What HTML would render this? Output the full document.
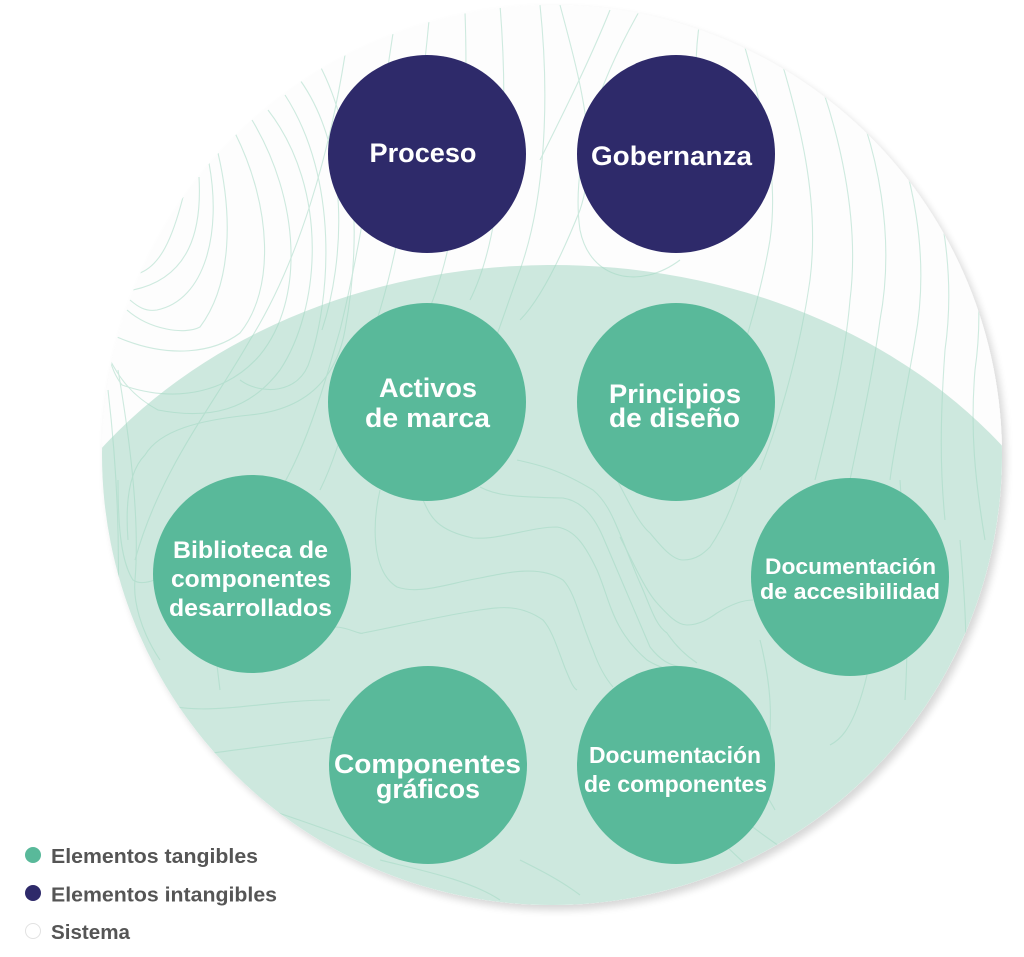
<!DOCTYPE html>
<html>
<head>
<meta charset="utf-8">
<style>
html,body{margin:0;padding:0;background:#ffffff;width:1024px;height:957px;overflow:hidden;}
svg{display:block;position:absolute;left:0;top:0;}
text{font-family:"Liberation Sans",Arial,sans-serif;font-weight:bold;}
</style>
</head>
<body>
<svg width="1024" height="957" viewBox="0 0 1024 957" xmlns="http://www.w3.org/2000/svg" overflow="hidden">
<defs>
  <clipPath id="big"><circle cx="552" cy="455" r="450"/></clipPath>
  <filter id="sh" x="-3%" y="-3%" width="106%" height="106%">
    <feGaussianBlur in="SourceAlpha" stdDeviation="4"/>
    <feOffset dx="4" dy="5" result="o"/>
    <feComponentTransfer><feFuncA type="linear" slope="0.16"/></feComponentTransfer>
    <feMerge><feMergeNode/><feMergeNode in="SourceGraphic"/></feMerge>
  </filter>
</defs>

<circle cx="552" cy="455" r="450" fill="#fdfdfd" filter="url(#sh)"/>

<g clip-path="url(#big)">
  <path d="M90,461.4 A560,449 0 0 1 1010,454.5 L1010,910 L90,910 Z" fill="#cde8de"/>
  <g fill="none" stroke="#9fd7c1" stroke-width="1.1" opacity="0.5">
    <path d="M183,197 C172,240 160,265 140,273"/>
    <path d="M199,177 C202,230 190,278 133,290"/>
    <path d="M209,163 C222,233 205,300 157,310 C145,312 137,306 130,300"/>
    <path d="M218,153 C232,213 233,283 200,327 C185,335 150,330 127,310"/>
    <path d="M235,133 C272,207 275,290 240,333 C215,352 170,360 117,337"/>
    <path d="M252,120 C300,200 305,300 260,355 C230,390 180,405 122,385 C112,372 110,360 108,350"/>
    <path d="M268,110 C330,190 320,310 280,370 C250,410 210,420 158,410 C130,395 118,375 110,360"/>
    <path d="M285,95 C340,180 330,300 310,360 C300,395 260,395 240,380"/>
    <path d="M300,80 C350,150 345,260 322,330"/>
    <path d="M318,62 C360,140 360,250 345,330 C335,385 300,410 250,415 C200,420 160,430 145,455 C130,470 125,500 128,540"/>
    <path d="M345,55 C330,150 300,260 250,340 C210,410 160,470 135,560"/>
    <path d="M108,390 C115,450 120,520 118,600 C117,640 128,690 150,740"/>
    <path d="M118,370 C130,440 140,520 135,580 C133,600 140,630 160,660"/>
    <path d="M118,480 C118,520 120,560 133,580 C140,585 150,582 160,578"/>
    <path d="M395,20 C380,120 360,250 340,330 C320,400 300,470 260,520"/>
    <path d="M430,10 C420,120 400,260 370,340 C350,400 340,450 320,490"/>
    <path d="M465,12 C470,150 455,260 420,330"/>
    <path d="M500,5 C510,130 500,240 470,300"/>
    <path d="M540,5 C550,100 545,200 520,270 C505,310 490,360 470,400"/>
    <path d="M560,5 C580,80 600,150 580,210 C560,260 540,300 520,320"/>
    <path d="M610,10 C590,60 560,120 540,160"/>
    <path d="M640,10 C600,80 570,160 580,230 C590,280 640,290 680,260"/>
    <path d="M700,20 C690,80 700,140 720,200"/>
    <path d="M740,30 C760,100 780,170 770,240 C760,300 740,360 720,420"/>
    <path d="M775,40 C800,120 820,200 810,280 C800,350 780,420 760,470"/>
    <path d="M810,55 C840,130 860,220 850,300 C845,360 830,420 815,480"/>
    <path d="M845,75 C880,150 895,240 880,320 C872,380 860,430 850,480"/>
    <path d="M880,100 C915,170 930,260 915,340 C905,400 895,440 890,480"/>
    <path d="M915,130 C945,200 955,280 945,350 C940,420 940,470 945,520"/>
    <path d="M950,170 C975,230 985,300 975,370 C970,430 975,480 985,540"/>
    <path d="M985,220 C1000,280 1002,340 1000,400"/>
    <path d="M900,480 C905,560 910,620 905,700"/>
    <path d="M960,540 C965,600 970,660 960,720"/>
    <path d="M870,480 C880,560 880,640 860,700 C850,730 840,740 830,745"/>
    <path d="M423,500 C430,515 435,530 473,538 C500,540 530,527 557,527 C575,530 585,545 597,570 C610,600 612,630 647,660 C660,668 670,670 677,670"/>
    <path d="M380,490 C373,520 370,570 397,587 C420,595 450,583 480,578 C510,572 540,565 563,580 C575,592 580,620 593,650 C600,670 607,680 613,687"/>
    <path d="M200,640 C250,630 300,632 337,627 C350,628 360,635 363,633 C390,628 440,616 480,610 C500,607 520,604 543,620 C552,630 557,647 565,668 C570,680 573,688 577,690"/>
    <path d="M480,487 C495,495 510,497 563,498 C575,500 590,507 603,537 C615,565 627,593 650,647 C660,660 670,666 683,667"/>
    <path d="M517,460 C540,465 560,470 593,490 C605,500 612,515 617,527 C625,545 632,565 640,583 C650,605 655,625 667,633 C675,645 685,655 697,663"/>
    <path d="M617,480 C630,505 640,525 650,533 C660,545 672,560 683,560 C697,560 705,552 710,547 C725,525 735,500 743,473"/>
    <path d="M620,537 C632,560 645,590 657,603 C668,615 677,625 687,625 C700,625 710,618 717,613 C730,605 742,600 753,600"/>
    <path d="M213,753 C240,749 300,742 333,737"/>
    <path d="M150,700 C200,720 260,700 330,700"/>
    <path d="M200,540 C210,600 215,650 220,690"/>
    <path d="M520,860 C540,870 560,880 580,895"/>
    <path d="M380,860 C420,870 470,880 500,900"/>
    <path d="M700,780 C740,820 780,850 820,870"/>
    <path d="M710,830 C740,860 760,880 790,895"/>
    <path d="M240,800 C300,820 360,840 400,860"/>
    <path d="M270,830 C320,850 360,870 380,890"/>
    <path d="M760,640 C770,680 775,720 765,770 C760,790 770,800 775,810"/>
    <path d="M690,460 C700,440 720,420 740,380"/>
  </g>
</g>

<circle cx="427" cy="154" r="99" fill="#2e2a6a"/>
<circle cx="676" cy="154" r="99" fill="#2e2a6a"/>
<circle cx="427" cy="402" r="99" fill="#59b99a"/>
<circle cx="676" cy="402" r="99" fill="#59b99a"/>
<circle cx="252" cy="574" r="99" fill="#59b99a"/>
<circle cx="850" cy="577" r="99" fill="#59b99a"/>
<circle cx="428" cy="765" r="99" fill="#59b99a"/>
<circle cx="676" cy="765" r="99" fill="#59b99a"/>

<g fill="#ffffff" text-anchor="middle">
  <text x="423" y="162" font-size="27" textLength="107" lengthAdjust="spacingAndGlyphs">Proceso</text>
  <text x="671.5" y="165" font-size="27" textLength="161" lengthAdjust="spacingAndGlyphs">Gobernanza</text>

  <text x="428" y="397" font-size="27" textLength="98" lengthAdjust="spacingAndGlyphs">Activos</text>
  <text x="427.5" y="427" font-size="27" textLength="125" lengthAdjust="spacingAndGlyphs">de marca</text>

  <text x="675" y="403" font-size="27" textLength="132" lengthAdjust="spacingAndGlyphs">Principios</text>
  <text x="674.5" y="427" font-size="27" textLength="131" lengthAdjust="spacingAndGlyphs">de diseño</text>

  <text x="250.5" y="558" font-size="24" textLength="155" lengthAdjust="spacingAndGlyphs">Biblioteca de</text>
  <text x="251" y="587" font-size="24" textLength="160" lengthAdjust="spacingAndGlyphs">componentes</text>
  <text x="250.5" y="616" font-size="24" textLength="163" lengthAdjust="spacingAndGlyphs">desarrollados</text>

  <text x="427.5" y="773" font-size="27" textLength="187" lengthAdjust="spacingAndGlyphs">Componentes</text>
  <text x="428" y="798" font-size="27" textLength="104" lengthAdjust="spacingAndGlyphs">gráficos</text>

  <text x="850.5" y="574" font-size="22.5" textLength="171" lengthAdjust="spacingAndGlyphs">Documentación</text>
  <text x="850" y="599" font-size="22.5" textLength="180" lengthAdjust="spacingAndGlyphs">de accesibilidad</text>

  <text x="675" y="763" font-size="22.8" textLength="172" lengthAdjust="spacingAndGlyphs">Documentación</text>
  <text x="675.5" y="792" font-size="22.8" textLength="183" lengthAdjust="spacingAndGlyphs">de componentes</text>
</g>

<circle cx="33" cy="855" r="8" fill="#59b99a"/>
<circle cx="33" cy="893" r="8" fill="#2e2a6a"/>
<circle cx="33" cy="931" r="7.5" fill="#ffffff" stroke="#e2e2e2" stroke-width="1"/>
<g fill="#555555" font-size="20">
  <text x="51" y="863" textLength="207" lengthAdjust="spacingAndGlyphs">Elementos tangibles</text>
  <text x="51" y="901.5" textLength="226" lengthAdjust="spacingAndGlyphs">Elementos intangibles</text>
  <text x="51" y="939" textLength="79" lengthAdjust="spacingAndGlyphs">Sistema</text>
</g>
</svg>
</body>
</html>
